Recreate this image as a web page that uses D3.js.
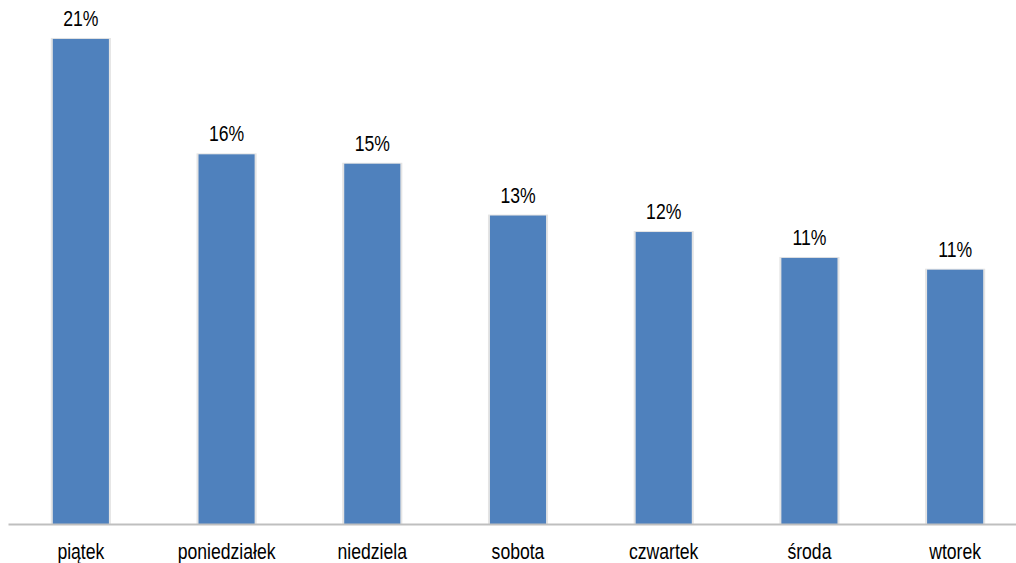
<!DOCTYPE html>
<html>
<head>
<meta charset="utf-8">
<script src="https://cdn.jsdelivr.net/npm/d3@7"></script>
<style>
  body { margin: 0; background: #fff; }
  svg { display: block; }
  text { font-family: "Liberation Sans", Arial, sans-serif; }
</style>
</head>
<body>
<svg width="1016" height="563"></svg>
<script>
// days of week, share of something (labels rounded to whole percent)
var days = ["piątek", "poniedziałek", "niedziela", "sobota", "czwartek", "środa", "wtorek"];
var shares = [0.206, 0.157, 0.153, 0.131, 0.124, 0.113, 0.108];

var data = days.map(function(d, i) { return { day: d, value: shares[i] }; });

var svg = d3.select("svg");
var squeeze = "scale(0.8, 1)";

var x = d3.scaleBand()
    .domain(days)
    .range([8, 1028])
    .paddingInner(0.615)
    .paddingOuter(0.3075);

var y = d3.scaleLinear()
    .domain([0, 0.22])
    .range([524, 6]);

// soft shadow behind bars
svg.append("g")
    .selectAll("rect").data(data).enter()
    .append("rect")
    .attr("x", function(d) { return x(d.day) - 2; })
    .attr("y", function(d) { return y(d.value) - 1; })
    .attr("width", x.bandwidth() + 4)
    .attr("height", function(d) { return y(0) - y(d.value) + 1; })
    .attr("fill", "#e4e4e4");

svg.append("g")
    .selectAll("rect").data(data).enter()
    .append("rect")
    .attr("x", function(d) { return x(d.day); })
    .attr("y", function(d) { return y(d.value); })
    .attr("width", x.bandwidth())
    .attr("height", function(d) { return y(0) - y(d.value); })
    .attr("fill", "#4F81BD");

// value labels (text looks horizontally condensed in the original)
svg.append("g")
    .selectAll("text").data(data).enter()
    .append("text")
    .attr("transform", function(d) {
        return "translate(" + (x(d.day) + x.bandwidth() / 2) + "," + (y(d.value) - 13) + ") " + squeeze;
    })
    .attr("text-anchor", "middle")
    .attr("font-size", "22px")
    .attr("fill", "#000")
    .text(function(d) { return d3.format(".0%")(d.value); });

// category axis
var axis = svg.append("g")
    .attr("transform", "translate(0, 524)")
    .call(d3.axisBottom(x).tickSize(0).tickPadding(19));
axis.select(".domain")
    .attr("stroke", "#bfbfbf")
    .attr("stroke-width", 2);
axis.selectAll("text")
    .attr("font-size", "22px")
    .attr("font-family", null)
    .attr("fill", "#000")
    .attr("transform", squeeze);
</script>
</body>
</html>
